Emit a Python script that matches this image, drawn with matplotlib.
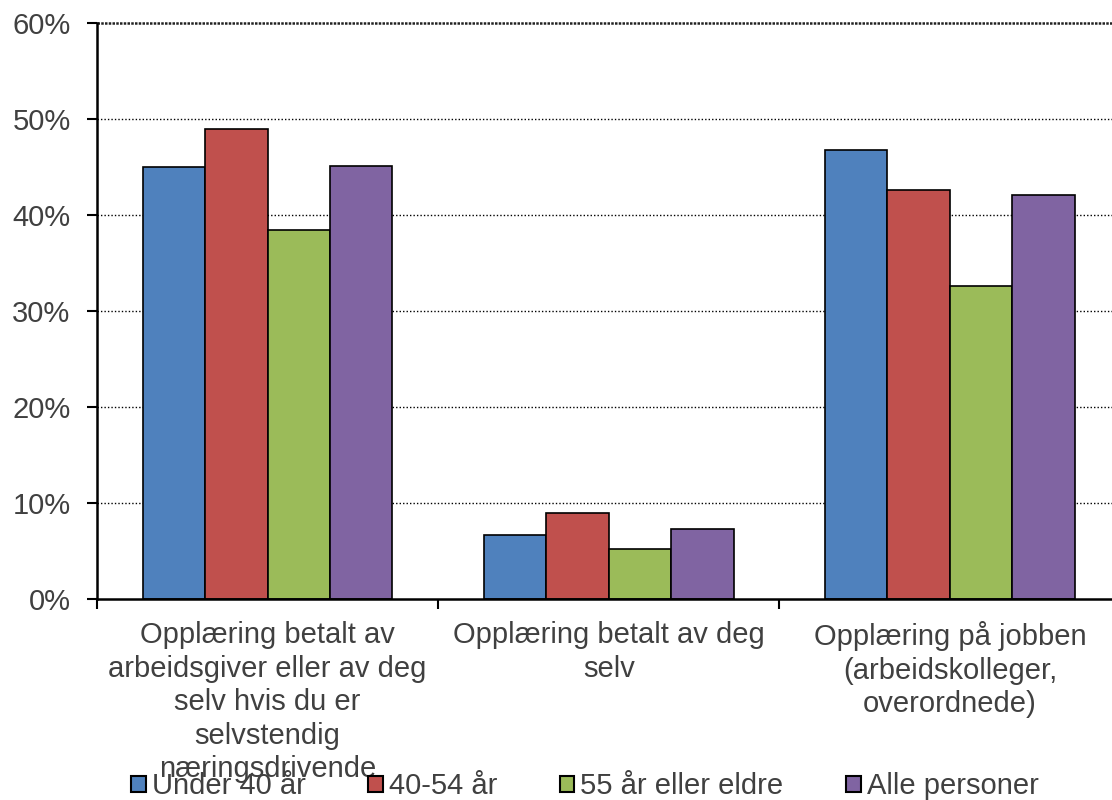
import matplotlib.pyplot as plt
import numpy as np
from matplotlib.patches import Patch

plt.rcParams['font.family'] = ['Liberation Sans', 'DejaVu Sans']

# data
categories = ['Opplæring betalt av\narbeidsgiver eller av deg\nselv hvis du er\nselvstendig\nnæringsdrivende',
              'Opplæring betalt av deg\nselv',
              'Opplæring på jobben\n(arbeidskolleger,\noverordnede)']
series_names = ['Under 40 år', '40-54 år', '55 år eller eldre', 'Alle personer']
under_40 = [45.0, 6.7, 46.8]
age_40_54 = [49.0, 9.0, 42.6]
over_55 = [38.4, 5.2, 32.6]
alle = [45.1, 7.3, 42.1]
yticks = [0, 10, 20, 30, 40, 50, 60]

colors = ['#4F81BD', '#C0504D', '#9BBB59', '#8064A2']
text_col = '#404040'
fs = 21

fig = plt.figure(figsize=(11.12, 8), dpi=100)
ax = fig.add_axes([97/1112, 1 - 599/800, (1120.5 - 97)/1112, 576/800])

x = np.arange(len(categories))
bw = 0.183
all_series = [under_40, age_40_54, over_55, alle]
for i, vals in enumerate(all_series):
    ax.bar(x + (i - 1.5)*bw, vals, bw, color=colors[i], edgecolor='black', linewidth=1.2, zorder=3)

ax.set_xlim(-0.5, 2.5)
ax.set_ylim(0, 60)
ax.set_yticks(yticks)
ax.set_yticklabels([f'{v}%' for v in yticks])

# gridlines
for v in yticks[1:-1]:
    ax.axhline(v, color='black', linestyle=(0, (1, 1.5)), linewidth=1, zorder=1)
ax.axhline(60, color='#222222', linestyle=(0, (1, 0.5)), linewidth=1.8, zorder=1, clip_on=False)

for s in ['top', 'right']:
    ax.spines[s].set_visible(False)
ax.spines['left'].set_linewidth(1.8)
ax.spines['bottom'].set_linewidth(1.8)
ax.spines['left'].set_zorder(4)
ax.spines['bottom'].set_zorder(4)

ax.tick_params(axis='y', direction='out', length=7, width=1.5, pad=12, labelsize=fs, labelcolor=text_col)
ax.set_xticks(x)
ax.set_xticklabels(categories, fontsize=fs, color=text_col, linespacing=1.25)
ax.tick_params(axis='x', which='major', length=0, pad=16)
ax.set_xticks([-0.5, 0.5, 1.5], minor=True)
ax.tick_params(axis='x', which='minor', direction='out', length=7, width=1.5)

handles = [Patch(facecolor=c, edgecolor='black', linewidth=1.5) for c in colors]
leg = fig.legend(handles, series_names, loc='center', bbox_to_anchor=(0.526, 0.017), ncol=4,
                 frameon=False, fontsize=fs, handlelength=0.5, handleheight=0.5,
                 handletextpad=0.2, columnspacing=2.15, borderaxespad=0, borderpad=0)
for t in leg.get_texts():
    t.set_color(text_col)

fig.savefig('out.png', dpi=100)
